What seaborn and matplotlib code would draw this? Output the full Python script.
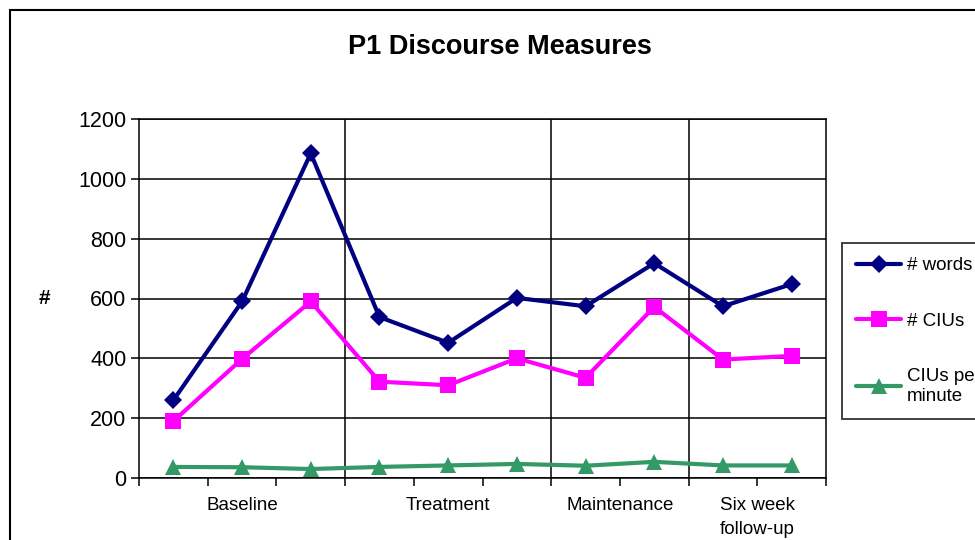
import matplotlib
matplotlib.use("Agg")
import matplotlib.pyplot as plt
import matplotlib.patches as mpatches
import numpy as np
import pandas as pd
import seaborn as sns

# one value per probe session
SESSIONS = list(range(1, 11))
WORDS = [260, 590, 1085, 538, 452, 602, 574, 718, 574, 648]
CIUS = [190, 398, 590, 322, 310, 400, 335, 572, 396, 408]
CIUS_PER_MIN = [37, 36, 30, 37, 42, 47, 41, 54, 42, 42]

PHASES = ["Baseline", "Treatment", "Maintenance", "Six week\nfollow-up"]
PHASE_SESSIONS = [3, 3, 2, 2]

SERIES = ["# words", "# CIUs", "CIUs per\nminute"]
COLORS = {"# words": "#000080", "# CIUs": "#FF00FF", "CIUs per\nminute": "#339966"}
MARKERS = {"# words": ("D", 9.5), "# CIUs": ("s", 11), "CIUs per\nminute": ("^", 12)}


def main():
    sns.set_style("white")
    plt.rcParams["font.family"] = ["Liberation Sans", "DejaVu Sans"]
    plt.rcParams["text.color"] = "black"
    plt.rcParams["xtick.color"] = "black"
    plt.rcParams["ytick.color"] = "black"
    plt.rcParams["axes.labelcolor"] = "black"

    df = pd.DataFrame({
        "pos": np.arange(len(SESSIONS)),
        "# words": WORDS,
        "# CIUs": CIUS,
        "CIUs per\nminute": CIUS_PER_MIN,
    })
    long = df.melt(id_vars="pos", var_name="measure", value_name="value")

    fig = plt.figure(figsize=(9.75, 5.4), dpi=100)
    ax = fig.add_axes([139 / 975, 1 - 478 / 540, (826 - 139) / 975, (478 - 119) / 540])

    handles = []
    for name in SERIES:
        sub = long[long["measure"] == name]
        mk, ms = MARKERS[name]
        sns.lineplot(data=sub, x="pos", y="value", color=COLORS[name], marker=mk,
                     markersize=ms, markeredgewidth=0, linewidth=3.0, ax=ax,
                     label=name, zorder=4)
        handles.append(ax.lines[-1])

    n = len(SESSIONS)
    ax.set_xlim(-0.5, n - 0.5)
    ax.set_ylim(0, 1200)
    ax.set_yticks(range(0, 1201, 200))
    ax.set_xticks(np.arange(-0.5, n, 1.0))
    ax.set_xticklabels([])
    ax.grid(axis="y", color="black", linewidth=1.1)
    ax.set_axisbelow(True)
    for sp in ax.spines.values():
        sp.set_color("black")
        sp.set_linewidth(1.1)
        sp.set_visible(True)
    ax.tick_params(axis="both", direction="out", length=6, width=1.1, color="black",
                   labelsize=15.5, pad=3, left=True, bottom=True)
    ax.set_xlabel("")
    ax.set_ylabel("#", fontsize=15, fontweight="bold", rotation=0, va="center")
    ax.yaxis.set_label_coords(-0.137, 0.5)

    # phase separators and labels
    start = 0
    for i, (phase, cnt) in enumerate(zip(PHASES, PHASE_SESSIONS)):
        if i > 0:
            ax.axvline(start - 0.5, color="black", linewidth=1.1, zorder=1)
        center = start + (cnt - 1) / 2
        ax.text(center, -0.052, phase, transform=ax.get_xaxis_transform(),
                ha="center", va="top", fontsize=13.5, linespacing=1.55)
        start += cnt

    ax.legend_.remove()
    fig.legend(handles=handles, labels=SERIES, loc="upper left",
               bbox_to_anchor=(842 / 975, 1 - 243 / 540), frameon=True,
               fancybox=False, edgecolor="black", fontsize=13.5,
               handlelength=2.4, handletextpad=0.3, labelspacing=2.05,
               borderpad=0.75, borderaxespad=0)
    leg = fig.legends[0]
    leg.get_frame().set_linewidth(1.3)

    fig.text(500 / 975, 1 - 47 / 540, "P1 Discourse Measures", ha="center",
             va="center", fontsize=19.5, fontweight="bold")

    border = mpatches.Rectangle((10 / 975, -0.1), 1.2, 1 - 10 / 540 + 0.1,
                                transform=fig.transFigure, fill=False,
                                edgecolor="black", linewidth=1.5)
    fig.patches.append(border)

    fig.savefig("out.png", dpi=100)
    plt.close(fig)


if __name__ == "__main__":
    main()
